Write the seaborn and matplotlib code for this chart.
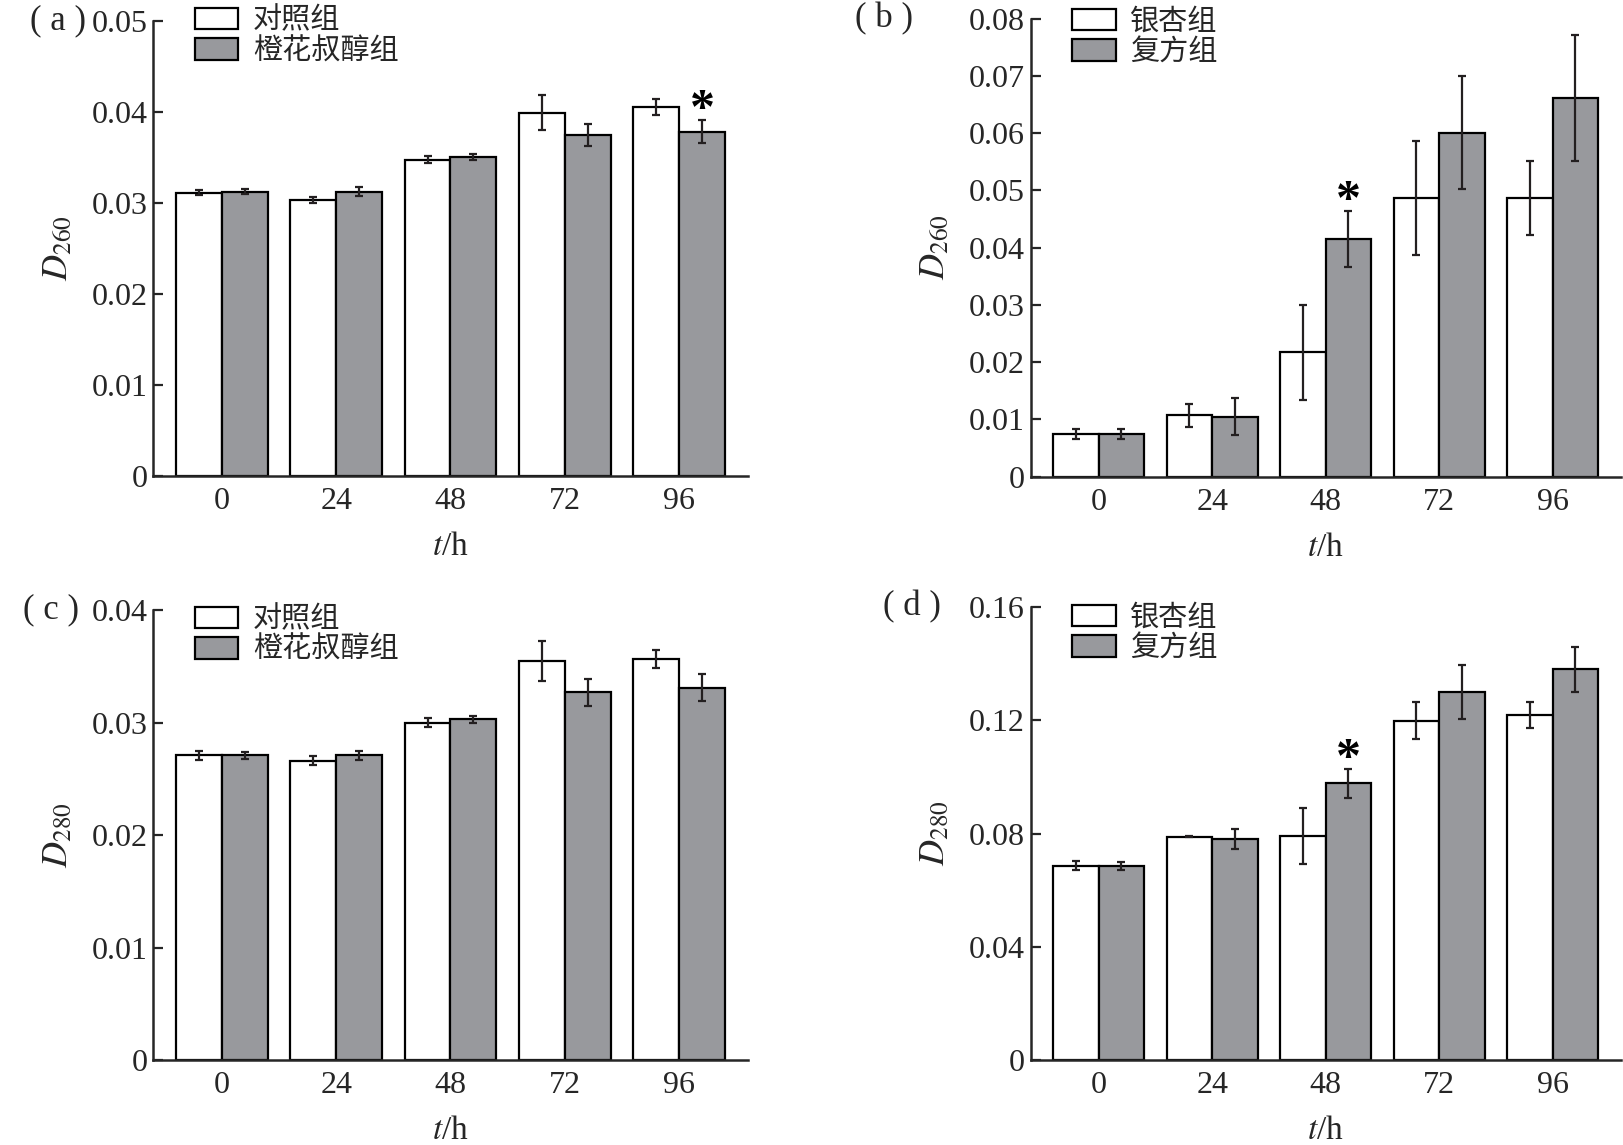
import matplotlib
matplotlib.use("Agg")
import matplotlib.pyplot as plt
import pandas as pd
import seaborn as sns

# time points (h)
times = ["0", "24", "48", "72", "96"]

# (a) D260, control vs 橙花叔醇
a_labels = ["对照组", "橙花叔醇组"]
a_ctrl = [0.0311, 0.0303, 0.0347, 0.0399, 0.0405]
a_ctrl_err = [0.0003, 0.0003, 0.0004, 0.0019, 0.0009]
a_trt = [0.0312, 0.0312, 0.0350, 0.0374, 0.0378]
a_trt_err = [0.0003, 0.0005, 0.0003, 0.0012, 0.0013]
a_star = [None, None, None, None, "*"]

# (b) D260, 银杏 vs 复方
b_labels = ["银杏组", "复方组"]
b_ctrl = [0.0075, 0.0107, 0.0217, 0.0487, 0.0487]
b_ctrl_err = [0.0009, 0.0020, 0.0083, 0.0100, 0.0065]
b_trt = [0.0075, 0.0105, 0.0415, 0.0601, 0.0661]
b_trt_err = [0.0009, 0.0032, 0.0049, 0.0098, 0.0110]
b_star = [None, None, "*", None, None]

# (c) D280, control vs 橙花叔醇
c_ctrl = [0.0271, 0.0266, 0.0300, 0.0355, 0.0357]
c_ctrl_err = [0.0004, 0.0004, 0.0004, 0.0018, 0.0008]
c_trt = [0.0271, 0.0271, 0.0303, 0.0327, 0.0331]
c_trt_err = [0.0003, 0.0004, 0.0003, 0.0012, 0.0012]
c_star = [None, None, None, None, None]

# (d) D280, 银杏 vs 复方
d_ctrl = [0.0686, 0.0789, 0.0792, 0.1199, 0.1219]
d_ctrl_err = [0.0016, 0.0002, 0.0099, 0.0065, 0.0047]
d_trt = [0.0686, 0.0780, 0.0978, 0.1301, 0.1381]
d_trt_err = [0.0014, 0.0035, 0.0051, 0.0096, 0.0080]
d_star = [None, None, "*", None, None]

a_ticks = [0, 0.01, 0.02, 0.03, 0.04, 0.05]
b_ticks = [0, 0.01, 0.02, 0.03, 0.04, 0.05, 0.06, 0.07, 0.08]
c_ticks = [0, 0.01, 0.02, 0.03, 0.04]
d_ticks = [0, 0.04, 0.08, 0.12, 0.16]

WHITE = "#ffffff"
GRAY = "#98999d"
INK = "#231f20"

sns.set_style("ticks")
plt.rcParams["font.family"] = ["Liberation Serif", "Noto Sans CJK SC"]
plt.rcParams["mathtext.fontset"] = "stix"
plt.rcParams["axes.unicode_minus"] = False


def draw_panel(ax, tag, tag_x, labels, ctrl, ctrl_err, trt, trt_err, stars,
               ticks, ylabel, leg_y):
    df = pd.DataFrame({
        "time": times * 2,
        "group": [labels[0]] * len(times) + [labels[1]] * len(times),
        "value": ctrl + trt,
    })
    sns.barplot(
        data=df, x="time", y="value", hue="group", order=times,
        hue_order=labels, palette={labels[0]: WHITE, labels[1]: GRAY},
        edgecolor="black", linewidth=1.6, width=0.8, errorbar=None,
        saturation=1, legend=False, ax=ax,
    )
    for cont, errs in zip(ax.containers, [ctrl_err, trt_err]):
        xs = [p.get_x() + p.get_width() / 2 for p in cont]
        ys = [p.get_height() for p in cont]
        ax.errorbar(xs, ys, yerr=errs, fmt="none", ecolor=INK,
                    elinewidth=1.6, capsize=3.2, capthick=1.6, zorder=5)

    # significance marks above the treatment bars
    for p, val, err, s in zip(ax.containers[1], trt, trt_err, stars):
        if s:
            ax.annotate(s, xy=(p.get_x() + p.get_width() / 2, val + err),
                        xytext=(0, -2), textcoords="offset points",
                        ha="center", va="baseline", fontsize=36,
                        fontweight="bold", color="black")

    ax.set_xlim(-0.6, 4.6)
    ax.set_ylim(0, ticks[-1])
    ax.set_yticks(ticks)
    ax.set_yticklabels(["0" if t == 0 else f"{t:g}" for t in ticks])
    ax.tick_params(axis="y", direction="in", length=7, width=1.6,
                   labelsize=23, pad=4)
    ax.tick_params(axis="x", length=0, labelsize=23, pad=8)
    for side in ["top", "right"]:
        ax.spines[side].set_visible(False)
    for side in ["left", "bottom"]:
        ax.spines[side].set_linewidth(1.8)
    ax.set_ylabel(ylabel, fontsize=26, labelpad=12)
    ax.set_xlabel("$t$/h", fontsize=24, labelpad=11)

    ax.legend(ax.containers, labels, loc="upper left",
              bbox_to_anchor=(0.05, leg_y), frameon=False, fontsize=21,
              handlelength=1.5, handleheight=0.75, labelspacing=0.12,
              handletextpad=0.5, borderaxespad=0)
    ax.text(tag_x, 1.0, tag, transform=ax.transAxes, ha="right",
            va="center", fontsize=25)


fig = plt.figure(figsize=(16.24, 11.45), dpi=100)
ax_a = fig.add_axes([0.0944, 0.5846, 0.366, 0.3974])
ax_b = fig.add_axes([0.6346, 0.5837, 0.3634, 0.4000])
ax_c = fig.add_axes([0.0944, 0.0742, 0.366, 0.3928])
ax_d = fig.add_axes([0.6346, 0.0742, 0.3634, 0.3955])

draw_panel(ax_a, "( a )", -0.113, a_labels, a_ctrl, a_ctrl_err, a_trt,
           a_trt_err, a_star, a_ticks, "$D_{260}$", 1.056)
draw_panel(ax_b, "( b )", -0.2, b_labels, b_ctrl, b_ctrl_err, b_trt,
           b_trt_err, b_star, b_ticks, "$D_{260}$", 1.047)
draw_panel(ax_c, "( c )", -0.125, a_labels, c_ctrl, c_ctrl_err, c_trt,
           c_trt_err, c_star, c_ticks, "$D_{280}$", 1.036)
draw_panel(ax_d, "( d )", -0.152, b_labels, d_ctrl, d_ctrl_err, d_trt,
           d_trt_err, d_star, d_ticks, "$D_{280}$", 1.031)

fig.savefig("out.png", dpi=100)
